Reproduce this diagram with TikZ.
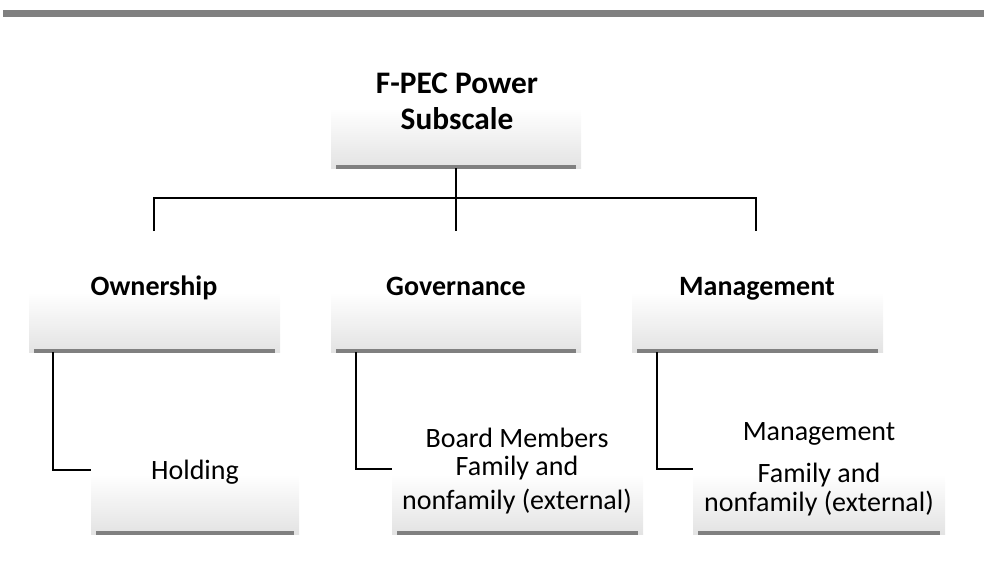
\documentclass[tikz,border=0pt]{standalone}
\usepackage{fontspec}
\setmainfont{Carlito}
\usetikzlibrary{calc}

\begin{document}
\begin{tikzpicture}[x=0.75pt,y=0.75pt,yscale=-1,xscale=1,
  box/.style={rectangle, inner sep=0pt, minimum height=45pt,
    top color=white, bottom color=black!11,
    path picture={\draw[black!50, line width=4.5pt]
      ([xshift=3.75pt]path picture bounding box.south west) --
      ([xshift=-3.75pt]path picture bounding box.south east);}},
  head/.style={inner sep=0pt, font=\bfseries\fontsize{21}{25}\selectfont},
  txt/.style={inner sep=0pt, align=center, font=\fontsize{21}{25.5}\selectfont},
  conn/.style={black, line width=1.5pt}]
\useasboundingbox (0,0) rectangle (984,562);

% top rule
\fill[black!50] (3,10) rectangle (984,17);

% Boxes
\node[box, minimum width=187.5pt] (root) at (456,138) {};
\node[box, minimum width=188.25pt] (own) at (154.5,322) {};
\node[box, minimum width=187.5pt] (gov) at (456,322) {};
\node[box, minimum width=188.25pt] (mgmt) at (757.5,322) {};
\node[box, minimum width=156pt] (hold) at (195,504) {};
\node[box, minimum width=188.25pt] (board) at (517.5,504) {};
\node[box, minimum width=189pt] (mgmtc) at (819,504) {};

% Bus
\coordinate (dL) at (154,231);
\coordinate (dM) at (456,231);
\coordinate (dR) at (756,231);
\coordinate (bus) at (456,198);
\draw[conn] (root.south) -- (dM);
\draw[conn] (dL) -- (dL |- bus) -- (dR |- bus) -- (dR);

% Branches
\draw[conn] ($(own.south west)+(24,0)$) |- ($(hold.north west)+(0,-4)$);
\draw[conn] ($(gov.south west)+(25,0)$) |- ($(board.north west)+(0,-5)$);
\draw[conn] ($(mgmt.south west)+(25,0)$) |- ($(mgmtc.north west)+(0,-5)$);

% Text Node
\node[head, align=center, font=\bfseries\fontsize{23.5}{27}\selectfont] (roottxt) at (457,101) {F-PEC Power\\Subscale};
% Text Node
\node[head, anchor=base] (owntxt) at (154,295) {Ownership};
% Text Node
\node[head, anchor=base] (govtxt) at (456,295) {Governance};
% Text Node
\node[head, anchor=base] (mgmttxt) at (757,295) {Management};
% Text Node
\node[txt, anchor=base] (holdtxt) at (195,479) {Holding};
% Text Node
\node[txt, anchor=base] (boardhd) at (517,447) {Board Members};
% Text Node
\node[txt] (boardtxt) at (517,485) {Family and\\nonfamily (external)};
% Text Node
\node[txt, anchor=base] (mgmtchd) at (819,440) {Management};
% Text Node
\node[txt, font=\fontsize{21}{21.75}\selectfont] (mgmtctxt) at (819,490) {Family and\\nonfamily (external)};

\end{tikzpicture}
\end{document}
